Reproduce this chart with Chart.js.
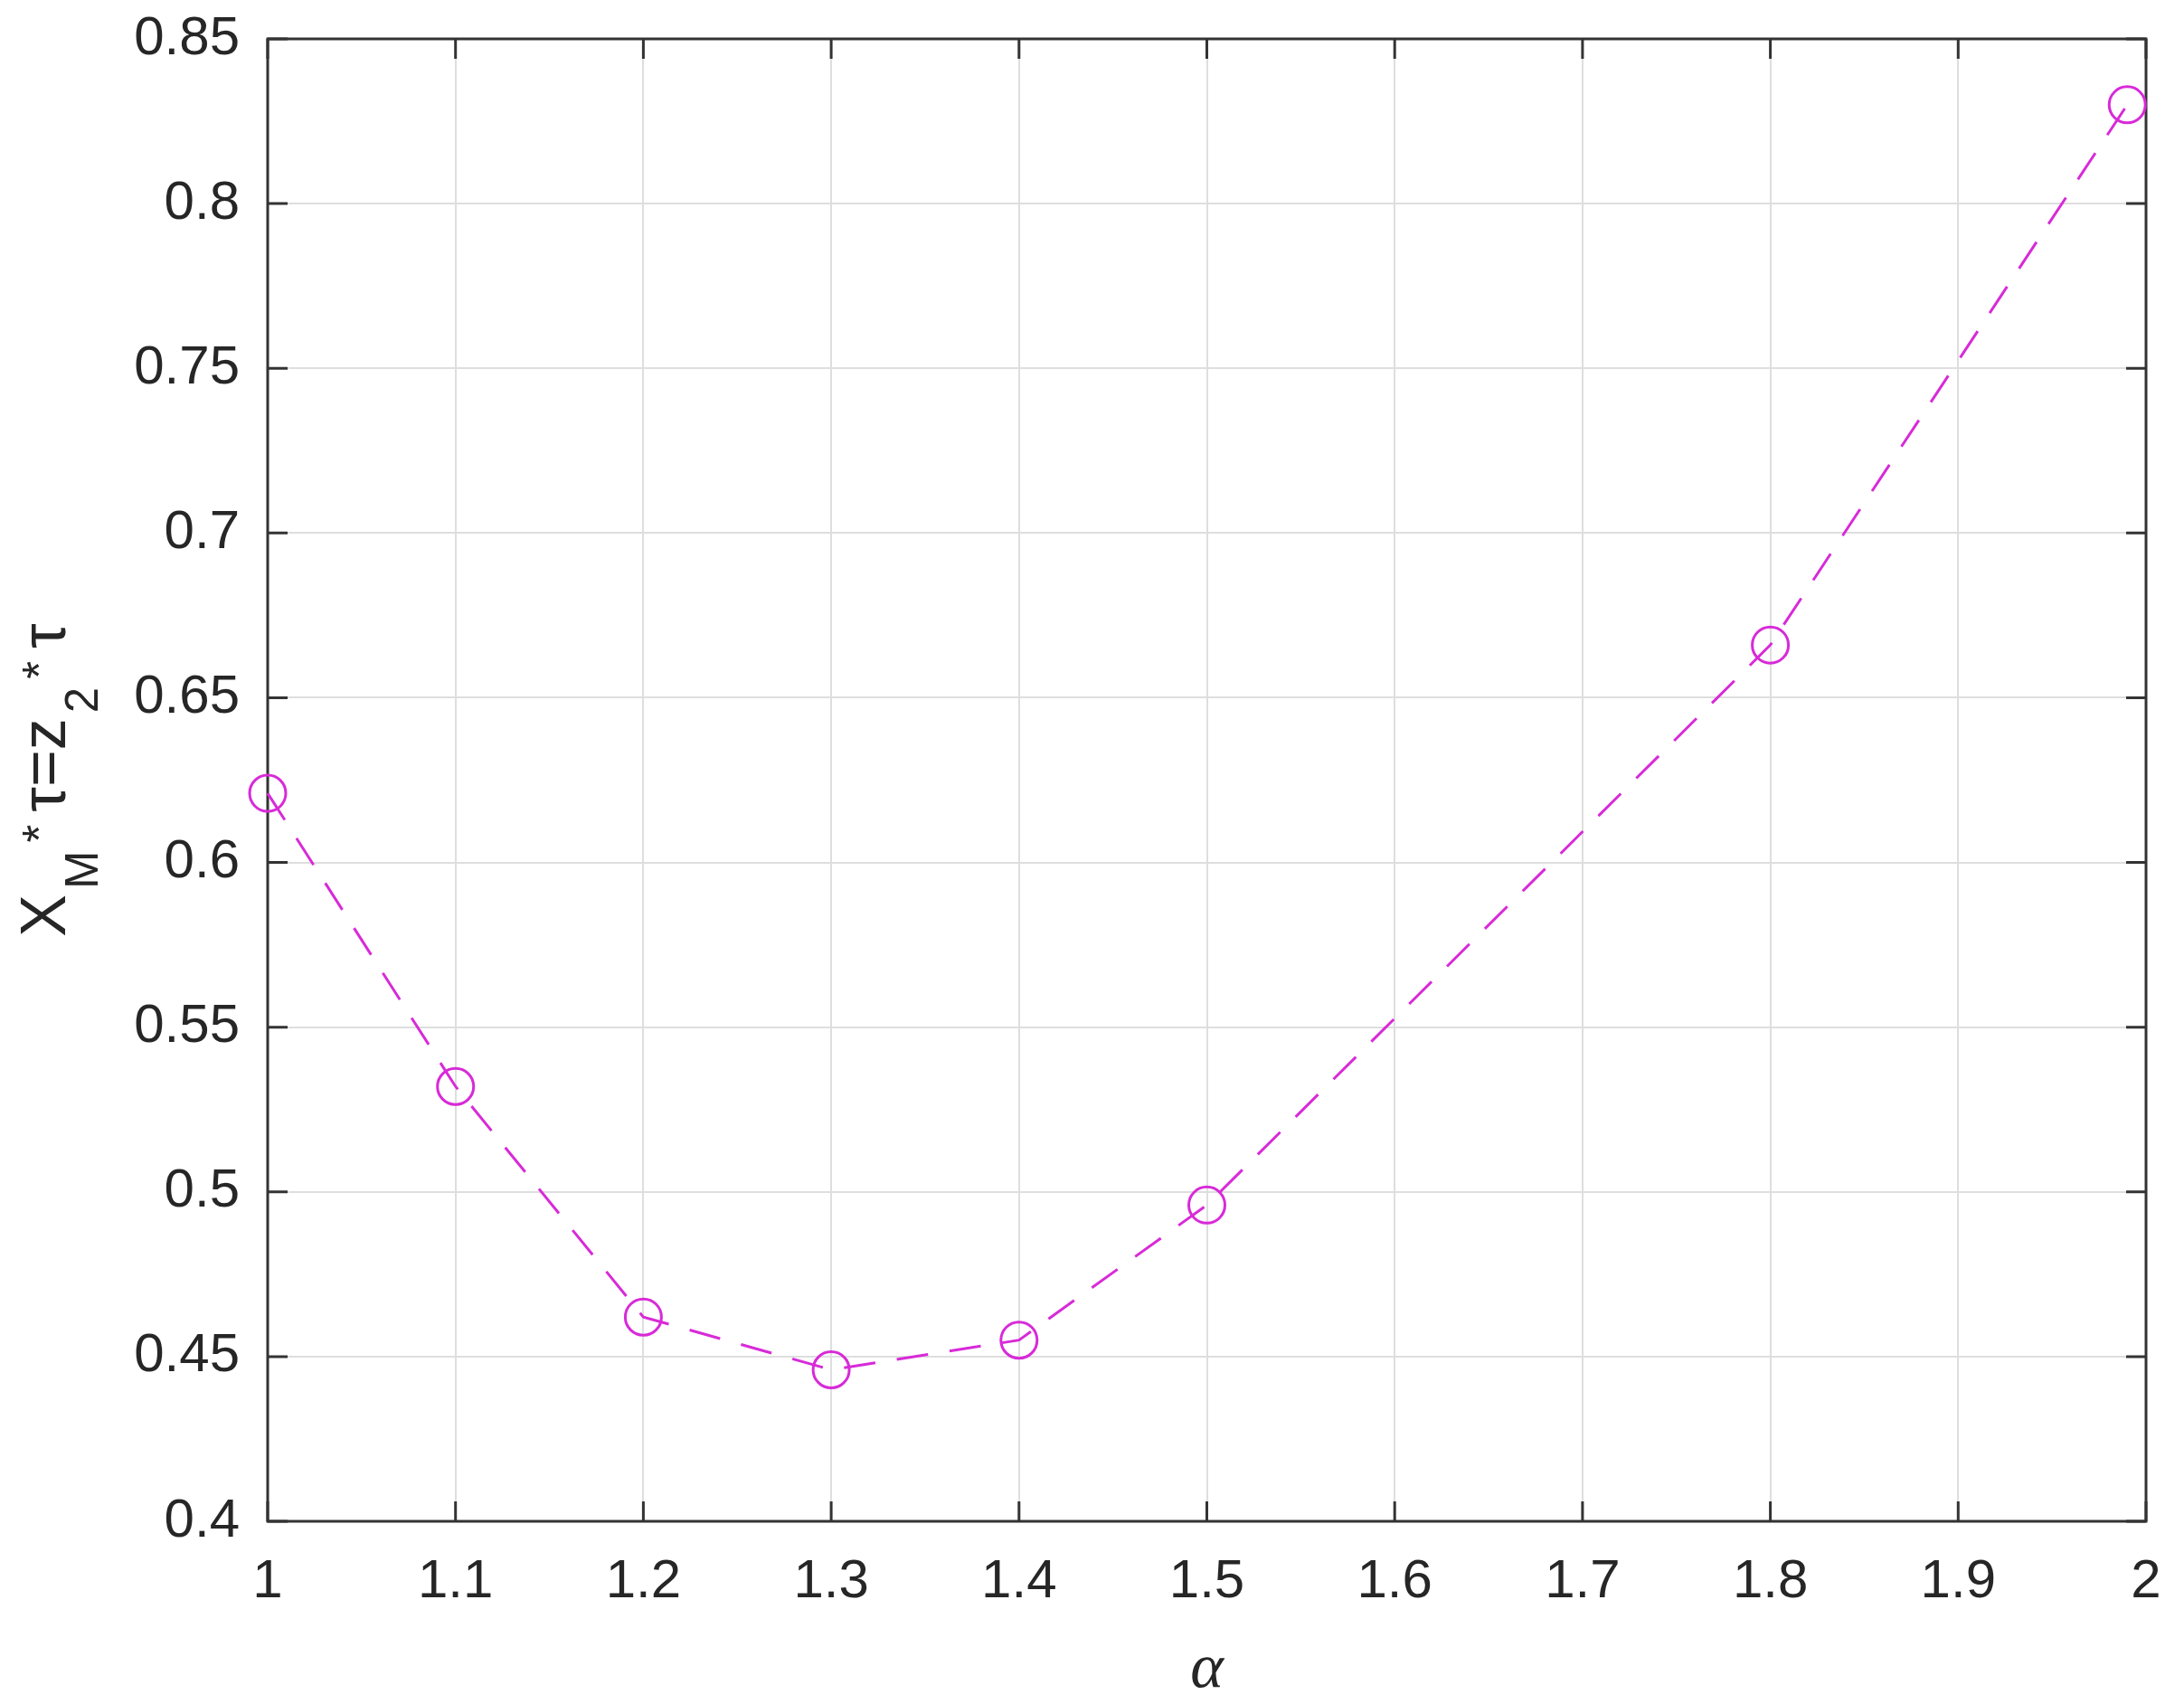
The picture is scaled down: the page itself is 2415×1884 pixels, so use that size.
<!DOCTYPE html>
<html><head><meta charset="utf-8">
<script src="https://cdn.jsdelivr.net/npm/chart.js@4.4.1/dist/chart.umd.min.js"></script>
<style>html,body{margin:0;padding:0;background:#fff}#wrap{width:2415px;height:1884px;position:relative}</style>
</head><body><div id="wrap"><canvas id="c" width="2415" height="1884"></canvas></div>
<script>
// ---- data ----
const alphaValues = [1.0, 1.1, 1.2, 1.3, 1.4, 1.5, 1.8, 1.99];
const xmValues    = [0.621, 0.532, 0.462, 0.446, 0.455, 0.496, 0.666, 0.830];
const xTickLabels = ['1','1.1','1.2','1.3','1.4','1.5','1.6','1.7','1.8','1.9','2'];
const yTickLabels = ['0.4','0.45','0.5','0.55','0.6','0.65','0.7','0.75','0.8','0.85'];
const xAxisTitle = 'α';
const yTitleText  = ['X','M','*','τ','=z','2','*','τ'];
const yTitleKinds = ['n','sub','sup','n','n','sub','sup','n'];

const TXT = '#262626';
const AX = '#333333';
const MAG = '#d82ad8';

const framePlugin = {
  id: 'frame',
  beforeDatasetsDraw(chart) {
    const {ctx, chartArea: a, scales: {x, y}} = chart;
    ctx.save();
    ctx.strokeStyle = AX;
    ctx.lineWidth = 3;
    ctx.beginPath();
    const tl = 22;
    x.ticks.forEach(t => {
      const px = x.getPixelForValue(t.value);
      ctx.moveTo(px, a.bottom); ctx.lineTo(px, a.bottom - tl);
      ctx.moveTo(px, a.top); ctx.lineTo(px, a.top + tl);
    });
    y.ticks.forEach(t => {
      const py = y.getPixelForValue(t.value);
      ctx.moveTo(a.left, py); ctx.lineTo(a.left + tl, py);
      ctx.moveTo(a.right, py); ctx.lineTo(a.right - tl, py);
    });
    ctx.stroke();
    ctx.strokeRect(a.left, a.top, a.right - a.left, a.bottom - a.top);
    ctx.restore();
  },
  afterDraw(chart) {
    const {ctx, chartArea: a} = chart;
    const mainF = '70px "Liberation Sans", Arial, sans-serif';
    const smallF = '51px "Liberation Sans", Arial, sans-serif';
    const pieces = yTitleText.map((t, i) => {
      const k = yTitleKinds[i];
      ctx.font = k === 'n' ? mainF : smallF;
      let w = ctx.measureText(t).width;
      let gapBefore = k === 'sub' ? 6 : 0;
      let gapAfter = k === 'sub' ? 9 : (k === 'sup' ? 14 : 0);
      return {t, k, w, gapBefore, gapAfter};
    });
    const total = pieces.reduce((s, p) => s + p.w + p.gapBefore + p.gapAfter, 0);
    ctx.save();
    ctx.fillStyle = TXT;
    ctx.translate(72, (a.top + a.bottom) / 2);
    ctx.rotate(-Math.PI / 2);
    ctx.textBaseline = 'alphabetic';
    ctx.textAlign = 'left';
    let cx = -total / 2;
    pieces.forEach(p => {
      cx += p.gapBefore;
      ctx.font = p.k === 'n' ? mainF : smallF;
      const dy = p.k === 'sub' ? 36 : (p.k === 'sup' ? -11 : 0);
      ctx.fillText(p.t, cx, dy);
      cx += p.w + p.gapAfter;
    });
    ctx.restore();
  }
};

new Chart(document.getElementById('c'), {
  type: 'scatter',
  data: {
    datasets: [{
      data: alphaValues.map((v, i) => ({x: v, y: xmValues[i]})),
      showLine: true,
      borderColor: MAG,
      borderWidth: 3,
      borderDash: [35, 24],
      pointStyle: 'circle',
      pointRadius: 20,
      pointBorderWidth: 3,
      pointBorderColor: MAG,
      pointBackgroundColor: 'rgba(0,0,0,0)',
      tension: 0,
      clip: false
    }]
  },
  options: {
    responsive: false,
    animation: false,
    devicePixelRatio: 1,
    layout: {autoPadding: false, padding: {top: 43, right: 42, left: 0, bottom: 0}},
    plugins: {legend: {display: false}, tooltip: {enabled: false}},
    scales: {
      x: {
        type: 'linear', min: 1, max: 2,
        afterFit: s => { s.height = 202; s.paddingLeft = 0; s.paddingRight = 0; },
        grid: {color: '#dedede', lineWidth: 2, drawTicks: false},
        border: {display: false},
        ticks: {
          stepSize: 0.1, autoSkip: false, maxRotation: 0, padding: 31,
          color: TXT, font: {family: '"Liberation Sans", Arial, sans-serif', size: 60},
          callback: (v, i) => xTickLabels[i]
        },
        title: {
          display: true, text: xAxisTitle, color: TXT,
          font: {family: '"Liberation Serif", "Times New Roman", serif', size: 70, style: 'italic', lineHeight: 1},
          padding: {top: 0, bottom: 2}
        }
      },
      y: {
        type: 'linear', min: 0.4, max: 0.85,
        afterFit: s => { s.width = 296; s.paddingTop = 0; s.paddingBottom = 0; },
        grid: {color: '#dedede', lineWidth: 2, drawTicks: false},
        border: {display: false},
        ticks: {
          stepSize: 0.05, autoSkip: false, padding: 31,
          color: TXT, font: {family: '"Liberation Sans", Arial, sans-serif', size: 60},
          callback: (v, i) => yTickLabels[i]
        }
      }
    }
  },
  plugins: [framePlugin]
});
</script>
</body></html>
